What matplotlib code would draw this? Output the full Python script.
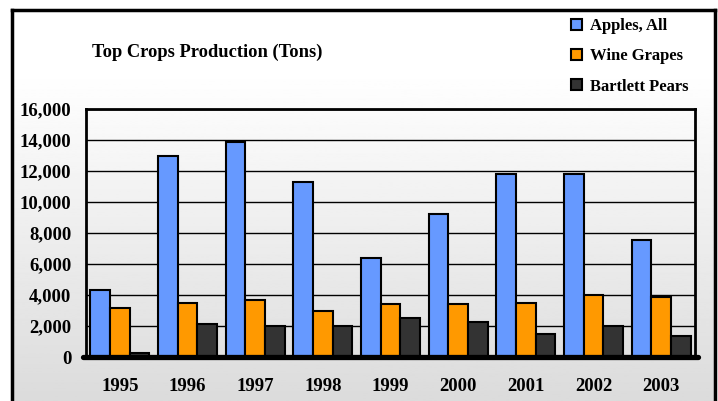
import matplotlib
matplotlib.use('Agg')
import matplotlib.pyplot as plt
from matplotlib.patches import Patch
import numpy as np

years = ['1995', '1996', '1997', '1998', '1999', '2000', '2001', '2002', '2003']
apples = [4300, 13000, 13900, 11300, 6400, 9200, 11800, 11800, 7550]
grapes = [3150, 3500, 3650, 3000, 3400, 3400, 3500, 4000, 3900]
pears = [250, 2100, 2000, 2000, 2500, 2250, 1500, 2000, 1350]
series_names = ['Apples, All', 'Wine Grapes', 'Bartlett Pears']
colors = ['#6699FF', '#FF9900', '#333333']

W, H = 718, 401
plt.rcParams['font.family'] = ['Liberation Serif', 'DejaVu Serif']
plt.rcParams['font.weight'] = 'bold'

fig = plt.figure(figsize=(W / 100, H / 100), dpi=100)
fig.patch.set_facecolor('white')

# fondo con degradado y marco exterior
bg = fig.add_axes([12 / W, 0, (715 - 12) / W, (H - 10) / H])
grad = np.concatenate([np.ones(40), np.linspace(1.0, 0.86, 216)]).reshape(-1, 1)
bg.imshow(grad, aspect='auto', cmap='gray', vmin=0, vmax=1, extent=[0, 1, 0, 1])
bg.set_xticks([])
bg.set_yticks([])
for side in ['left', 'top', 'right']:
    bg.spines[side].set_linewidth(2.5)
bg.spines['bottom'].set_visible(False)

ax = fig.add_axes([86 / W, (H - 357) / H, (695 - 86) / W, (357 - 109) / H])
ax.patch.set_alpha(0)

x = np.arange(len(years))
w = 0.29
for k, (vals, c) in enumerate(zip([apples, grapes, pears], colors)):
    ax.bar(x + (k - 1) * w, vals, w, color=c, edgecolor='black', linewidth=1.5, zorder=3)

ax.set_xlim(-0.5, len(years) - 0.5)
ax.set_ylim(0, 16000)
ax.set_yticks(range(0, 16001, 2000))
ax.set_yticklabels([f'{v:,}' for v in range(0, 16001, 2000)])
ax.set_xticks(x)
ax.set_xticklabels(years)
ax.tick_params(length=0, labelsize=13.5)
ax.tick_params(axis='y', pad=10.5)
ax.tick_params(axis='x', pad=15)
ax.grid(axis='y', color='black', linewidth=1, zorder=0)
for side in ['left', 'top', 'right']:
    ax.spines[side].set_linewidth(2)
ax.spines['bottom'].set_visible(False)
ax.axhline(0, xmin=-0.005, xmax=1.005, color='black', linewidth=3.8,
           solid_capstyle='round', clip_on=False, zorder=4)

fig.text(92 / W, 1 - 52 / H, 'Top Crops Production (Tons)', fontsize=13.3,
         fontweight='bold', va='center', ha='left')

handles = [Patch(facecolor=c, edgecolor='black', linewidth=1.5) for c in colors]
fig.legend(handles, series_names, loc='upper left', bbox_to_anchor=(563 / W, 1 - 10 / H),
           frameon=False, fontsize=12, handlelength=0.65, handleheight=0.65,
           handletextpad=0.5, labelspacing=0.85, borderpad=0)

fig.savefig('out.png', dpi=100)
